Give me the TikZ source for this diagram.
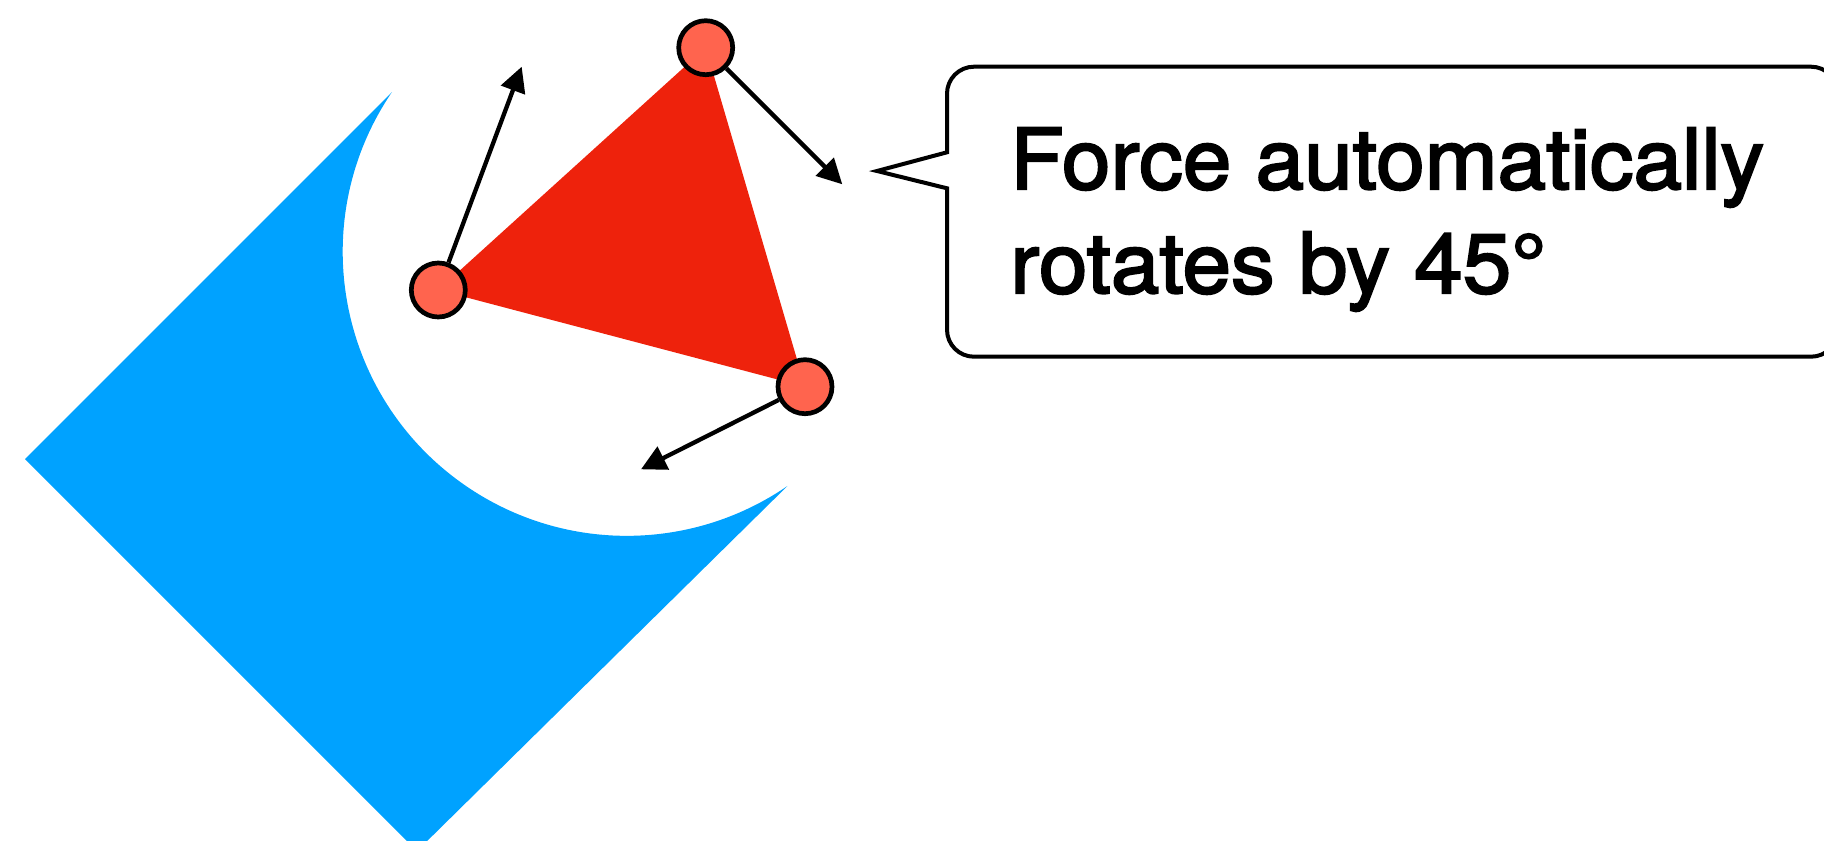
\documentclass[tikz,border=0pt]{standalone}
\usepackage{fontspec}
\setmainfont{TeX Gyre Heros}
\newfontfamily\calloutfont[FakeStretch=1.04,FakeBold=2.5]{TeX Gyre Heros}
\usetikzlibrary{arrows.meta}
\definecolor{plateblue}{RGB}{0,162,255}
\definecolor{bodyred}{RGB}{238,34,12}
\definecolor{jointred}{RGB}{255,100,78}

\begin{document}
\begin{tikzpicture}[x=1pt,y=1pt,
  joint/.style={circle, draw=black, fill=jointred, line width=4.7pt, minimum size=54pt, inner sep=0pt},
  force/.style={draw=black, line width=4.3pt, -{Triangle[length=25pt,width=25pt]}},
  callout/.style={draw=black, fill=white, line width=4pt, line join=miter},
  caption/.style={anchor=base west, inner sep=0pt, font=\calloutfont\fontsize{84}{100}\selectfont}
]
\useasboundingbox (0,0) rectangle (1824,-841);

% blue plate: a tilted square with a circular bite taken out of it
\fill[plateblue] (392,-92) arc[start angle=145.74, end angle=304.48, radius=284]
  -- (417,-851) -- (25,-459) -- cycle;

% red body spanned by the three joints
\coordinate (pa) at (705.7,-47.7);
\coordinate (pb) at (438.3,-290);
\coordinate (pc) at (805,-386.7);
\fill[bodyred] (pa) -- (pb) -- (pc) -- cycle;

\node[joint] (ja) at (pa) {};
\node[joint] (jb) at (pb) {};
\node[joint] (jc) at (pc) {};

% force vectors acting on the joints
\coordinate (fa) at (842.3,-184.3);
\coordinate (fb) at (521.7,-66.7);
\coordinate (fc) at (641,-469.3);
\draw[force] (ja) -- (fa);
\draw[force] (jb) -- (fb);
\draw[force] (jc) -- (fc);

% speech bubble
\draw[callout] (877,-171) -- (947,-152.3) -- (947,-93.7)
  arc[start angle=180, end angle=90, radius=27] -- (1811,-66.7)
  arc[start angle=90, end angle=0, radius=27] -- (1838,-329.7)
  arc[start angle=0, end angle=-90, radius=27] -- (974,-356.7)
  arc[start angle=-90, end angle=-180, radius=27] -- (947,-188.3) -- cycle;

\node[caption] (l1) at (1010,-189) {Force automatically};
\node[caption] (l2) at (1010,-293) {rotates by 45°};
\end{tikzpicture}
\end{document}
